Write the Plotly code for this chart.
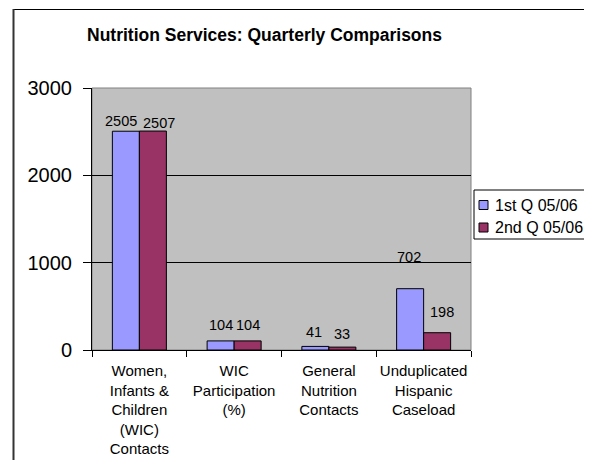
import plotly.graph_objects as go

categories = [
    "Women,<br>Infants &<br>Children<br>(WIC)<br>Contacts",
    "WIC<br>Participation<br>(%)",
    "General<br>Nutrition<br>Contacts",
    "Unduplicated<br>Hispanic<br>Caseload",
]
series_names = ["1st Q 05/06", "2nd Q 05/06"]
q1_values = [2505, 104, 41, 702]
q2_values = [2507, 104, 33, 198]
y_ticks = [0, 1000, 2000, 3000]

colors = ["#9999FF", "#993366"]
# label offsets (pixels) as placed in the original chart
label_dx = [[-5, 0, -1, -1], [6, 0, 0, 5]]
label_dy = [[10, 16, 14, 32], [8, 16, 13, 21]]

# page body has an 8px margin; work in reference-pixel coordinates
OFF = 8
WREF, HREF = 592, 460
W, H = WREF - OFF, HREF - OFF
L, R, T, B = 92, 471, 88, 350
FONT = "Liberation Sans"


def px(x):
    return (x - L) / (R - L)


def py(y):
    return (B - y) / (B - T)


fig = go.Figure()
for i, (name, vals) in enumerate(zip(series_names, [q1_values, q2_values])):
    fig.add_trace(go.Bar(
        x=categories, y=vals, name=name,
        marker=dict(color=colors[i], line=dict(color="black", width=1)),
        showlegend=False,
    ))

annotations = []
bar_px = (R - L) / len(categories) * (1 - 0.43) / 2
for i, vals in enumerate([q1_values, q2_values]):
    for j, v in enumerate(vals):
        annotations.append(dict(
            x=categories[j], y=v, xref="x", yref="y",
            text=str(v), showarrow=False,
            xshift=(-bar_px / 2 if i == 0 else bar_px / 2) + label_dx[i][j],
            yshift=label_dy[i][j], yanchor="middle",
            font=dict(family=FONT, size=14.5, color="black"),
        ))

shapes = []
# outer chart border
shapes.append(dict(type="rect", xref="paper", yref="paper",
                   x0=px(13.5), x1=px(640), y0=py(9.5), y1=py(520),
                   line=dict(color="black", width=1), fillcolor="rgba(0,0,0,0)",
                   layer="below"))
shapes.append(dict(type="line", xref="paper", yref="paper",
                   x0=px(13.5), x1=px(13.5), y0=py(9), y1=py(470),
                   line=dict(color="#333333", width=2)))
# plot area border
shapes.append(dict(type="rect", xref="paper", yref="paper",
                   x0=0, x1=1, y0=0, y1=1,
                   line=dict(color="#808080", width=1), layer="below"))
# legend (drawn)
shapes.append(dict(type="rect", xref="paper", yref="paper",
                   x0=px(474), x1=px(586), y0=py(190), y1=py(239),
                   line=dict(color="black", width=1), fillcolor="white"))
for k, (name, c) in enumerate(zip(series_names, colors)):
    cy = 205 + 22.5 * k
    shapes.append(dict(type="rect", xref="paper", yref="paper",
                       x0=px(479), x1=px(488), y0=py(cy - 4.5), y1=py(cy + 4.5),
                       line=dict(color="black", width=1), fillcolor=c))
    annotations.append(dict(x=px(493), y=py(cy), xref="paper", yref="paper",
                            text=name, showarrow=False, xanchor="left",
                            yanchor="middle",
                            font=dict(family=FONT, size=16, color="black")))

fig.update_layout(
    width=W, height=H,
    margin=dict(l=L - OFF, r=WREF - R, t=T - OFF, b=HREF - B, pad=0,
                autoexpand=False),
    paper_bgcolor="white", plot_bgcolor="#C0C0C0",
    barmode="group", bargap=0.43, bargroupgap=0,
    title=dict(text="<b>Nutrition Services: Quarterly Comparisons</b>",
               x=(264.5 - OFF) / W, xanchor="center", xref="container",
               y=1 - (35 - OFF) / H, yanchor="middle", yref="container",
               font=dict(family=FONT, size=17.5, color="black")),
    xaxis=dict(showline=True, linecolor="black", linewidth=1,
               ticks="outside", tickson="boundaries", ticklen=6,
               tickcolor="black", showgrid=False, tickangle=0,
               automargin=False, ticklabelstandoff=7,
               tickfont=dict(family=FONT, size=15, color="black")),
    yaxis=dict(range=[0, 3000], tickvals=y_ticks, showline=True,
               linecolor="black", linewidth=1, ticks="outside", ticklen=8,
               tickcolor="black", showgrid=True, gridcolor="black",
               gridwidth=1, zeroline=False, automargin=False,
               ticklabelstandoff=7,
               tickfont=dict(family=FONT, size=20, color="black")),
    shapes=shapes, annotations=annotations,
)
fig.write_html("out.html")
